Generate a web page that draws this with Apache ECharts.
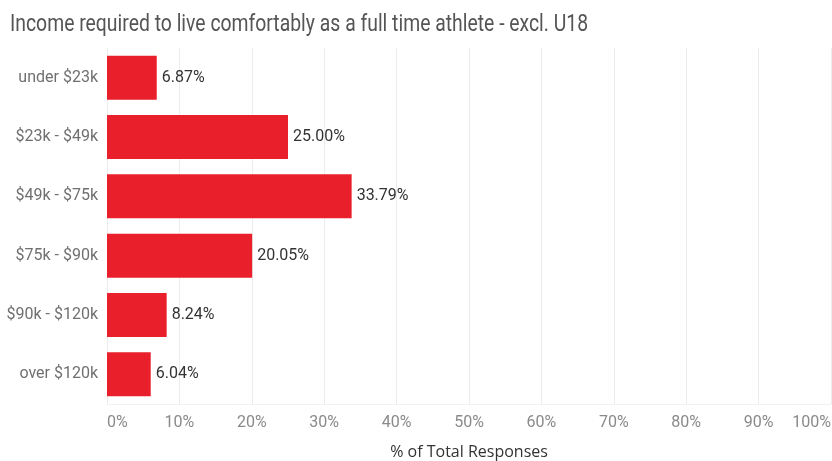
<!DOCTYPE html>
<html>
<head>
<meta charset="utf-8">
<script src="https://cdn.jsdelivr.net/npm/echarts@6/dist/echarts.min.js"></script>
<style>
  html, body { margin: 0; padding: 0; background: #fff; }
  #chart { width: 832px; height: 461px; }
</style>
</head>
<body>
<div id="chart"></div>
<script>
// Income brackets and share of responses (%)
const categories = ['under $23k', '$23k - $49k', '$49k - $75k', '$75k - $90k', '$90k - $120k', 'over $120k'];
const shares = [6.87, 25.00, 33.79, 20.05, 8.24, 6.04];
const xTicks = [0, 10, 20, 30, 40, 50, 60, 70, 80, 90, 100];

const chart = echarts.init(document.getElementById('chart'), null, { renderer: 'canvas' });

const baseFont = 'Roboto, "Noto Sans", sans-serif';

chart.setOption({
  backgroundColor: '#ffffff',
  animation: false,
  // condensed-looking heading: regular face squeezed horizontally
  graphic: [{
    type: 'text',
    x: 10,
    y: 13,
    scaleX: 0.807,
    style: {
      text: 'Income required to live comfortably as a full time athlete - excl. U18',
      font: '24px ' + baseFont,
      fill: '#555555'
    }
  }],
  grid: {
    left: 107,
    top: 48,
    width: 724,
    height: 356,
    containLabel: false,
    outerBoundsMode: 'none'
  },
  xAxis: {
    type: 'value',
    min: xTicks[0],
    max: xTicks[xTicks.length - 1],
    interval: 10,
    name: '% of Total Responses',
    nameLocation: 'middle',
    nameGap: 40,
    nameTextStyle: {
      fontFamily: '"Open Sans", sans-serif',
      fontSize: 16,
      color: '#333333'
    },
    axisLine: { show: true, lineStyle: { color: '#f2f2f2' } },
    axisTick: { show: false },
    axisLabel: {
      formatter: '{value}%',
      margin: 11,
      fontFamily: baseFont,
      fontSize: 16,
      color: '#8a8a8a',
      alignMinLabel: 'left',
      alignMaxLabel: 'right'
    },
    splitLine: { show: true, lineStyle: { color: '#ececec', width: 1 } }
  },
  yAxis: {
    type: 'category',
    data: categories,
    inverse: true,
    axisLine: { show: false },
    axisTick: { show: false },
    axisLabel: {
      margin: 9,
      fontFamily: baseFont,
      fontSize: 16,
      color: '#707070'
    }
  },
  series: [{
    type: 'bar',
    data: shares,
    barWidth: 44,
    itemStyle: { color: '#e9202b' },
    label: {
      show: true,
      position: 'right',
      distance: 5,
      formatter: p => p.value.toFixed(2) + '%',
      fontFamily: baseFont,
      fontSize: 16,
      color: '#333333'
    }
  }]
});
</script>
</body>
</html>
